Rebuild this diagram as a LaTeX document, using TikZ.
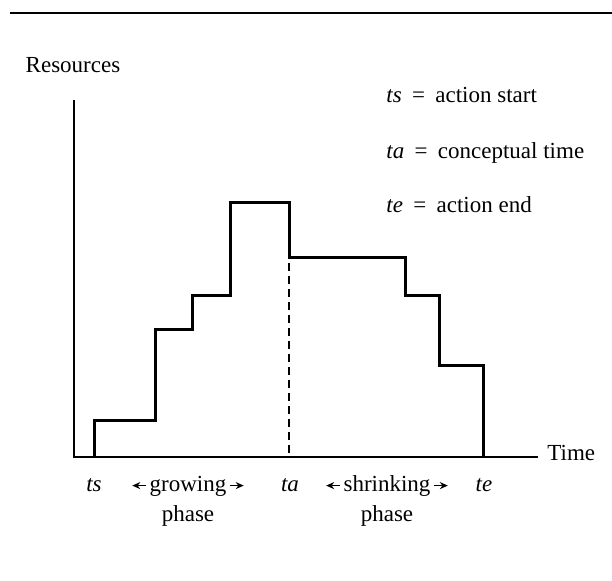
\documentclass[tikz,border=0pt]{standalone}
\usepackage{fontspec}
\setmainfont{Liberation Serif}
\usetikzlibrary{arrows.meta}
\tikzset{stair/.style={line width=1.5pt, line join=miter}}
\tikzset{axis/.style={line width=1.25pt}}
\tikzset{lbl/.style={font=\fontsize{11.5}{14}\selectfont, inner sep=0pt, anchor=base}}
\tikzset{legend/.style={lbl, anchor=base west}}
\tikzset{phasearrow/.style={-{Stealth[length=4pt, width=3.5pt]}, line width=0.6pt}}
\newcommand{\legeq}{\hspace{0.45em}=\hspace{0.45em}}

\begin{document}
\begin{tikzpicture}[x=0.5pt, y=-0.5pt]
            \useasboundingbox (0,0) rectangle (612,581);
            \draw[line width=1.1pt] (10,13) -- (612,13);
            % axes
            \node[lbl] (res) at (73,73) {Resources};
            \draw[axis] (74,100) -- (74,457) -- (538,457);
            \node[lbl, anchor=base west] (time) at (547,461) {Time};
            % resources over time
            \draw[stair] (94,457) |- (155,421) |- (192,330) |- (230,296) |- (289,203)
                |- (405,258) |- (439,296) |- (483,366) -- (483,457);
            \draw[line width=1.2pt, dash pattern=on 4pt off 2.5pt] (289,263) -- (289,457);
            % legend
            \node[legend] (legts) at (386,103) {\textit{ts}\legeq action start};
            \node[legend] (legta) at (386,159) {\textit{ta}\legeq conceptual time};
            \node[legend] (legte) at (386,213) {\textit{te}\legeq action end};
            % time marks
            \node[lbl] (ts) at (94,492) {\textit{ts}};
            \node[lbl] (ta) at (290,492) {\textit{ta}};
            \node[lbl] (te) at (484,492) {\textit{te}};
            \node[lbl] (grow) at (188,492) {growing};
            \node[lbl] (growph) at (188,522) {phase};
            \node[lbl] (shrink) at (387,492) {shrinking};
            \node[lbl] (shrinkph) at (387,522) {phase};
            \draw[phasearrow] ([xshift=-1.5pt,yshift=3.2pt]grow.base west) -- ++(-14,0);
            \draw[phasearrow] ([xshift=1.5pt,yshift=3.2pt]grow.base east) -- ++(14,0);
            \draw[phasearrow] ([xshift=-1.5pt,yshift=3.2pt]shrink.base west) -- ++(-14,0);
            \draw[phasearrow] ([xshift=1.5pt,yshift=3.2pt]shrink.base east) -- ++(14,0);
\end{tikzpicture}
\end{document}
